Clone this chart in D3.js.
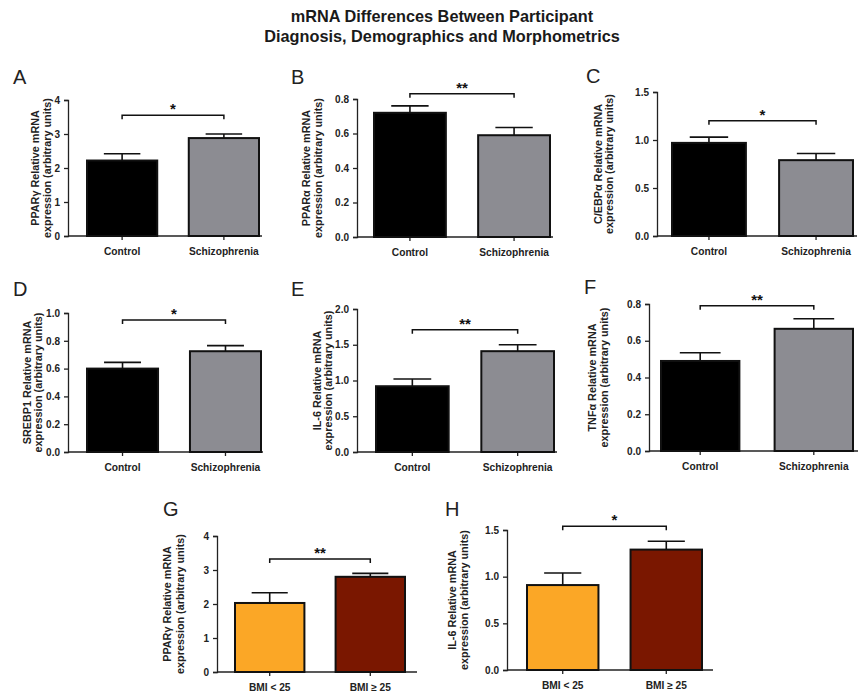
<!DOCTYPE html>
<html>
<head>
<meta charset="utf-8">
<script src="https://cdn.jsdelivr.net/npm/d3@7/dist/d3.min.js"></script>
<style>
  body { margin: 0; background: #fff; }
  svg { display: block; font-family: "Liberation Sans", Arial, sans-serif; }
</style>
</head>
<body>
<svg id="chart" width="861" height="694"></svg>
<script>
// ---------------- data ----------------
const panelLetters = ["A", "B", "C", "D", "E", "F", "G", "H"];
const geneLabels = ["PPARγ", "PPARα", "C/EBPα", "SREBP1", "IL-6", "TNFα", "PPARγ", "IL-6"];
const diagnosisGroups = ["Control", "Schizophrenia"];
const bmiGroups = ["BMI < 25", "BMI ≥ 25"];
const panelGroupSets = ["diag", "diag", "diag", "diag", "diag", "diag", "bmi", "bmi"];
const meanValues = [
  [2.22, 2.88],
  [0.72, 0.59],
  [0.97, 0.79],
  [0.60, 0.725],
  [0.92, 1.41],
  [0.49, 0.665],
  [2.03, 2.80],
  [0.91, 1.29]
];
const semValues = [
  [0.20, 0.12],
  [0.04, 0.045],
  [0.06, 0.07],
  [0.045, 0.04],
  [0.10, 0.09],
  [0.045, 0.055],
  [0.30, 0.10],
  [0.13, 0.09]
];
const yMaxValues = [4, 0.8, 1.5, 1.0, 2.0, 0.8, 4, 1.5];
const yTickValues = [
  [0, 1, 2, 3, 4],
  [0, 0.2, 0.4, 0.6, 0.8],
  [0, 0.5, 1.0, 1.5],
  [0, 0.2, 0.4, 0.6, 0.8, 1.0],
  [0, 0.5, 1.0, 1.5, 2.0],
  [0, 0.2, 0.4, 0.6, 0.8],
  [0, 1, 2, 3, 4],
  [0, 0.5, 1.0, 1.5]
];
const yTickFormats = ["d", ".1f", ".1f", ".1f", ".1f", ".1f", "d", ".1f"];
const sigLabels = ["*", "**", "*", "*", "**", "**", "**", "*"];
const bracketValues = [3.55, 0.83, 1.2, 0.95, 1.71, 0.79, 3.32, 1.54];
const titleLines = ["mRNA Differences Between Participant", "Diagnosis, Demographics and Morphometrics"];
const yTitleSecond = "expression (arbitrary units)";

// colours
const diagColors = ["#000000", "#8c8c92"];
const bmiColors = ["#fba726", "#7a1700"];

// ---------------- layout ----------------
const layout = [
  { ax: 68,  top: 100, bot: 236, b0: 87,  b1: 259, end: 262, t1: -33, t2: -21, lx: 13,  ly: 84 },
  { ax: 357, top: 99,  bot: 237, b0: 374, b1: 550, end: 553, t1: -51, t2: -39, lx: 291, ly: 84 },
  { ax: 657, top: 92,  bot: 236, b0: 672, b1: 853, end: 857, t1: -59, t2: -48, lx: 586, ly: 83 },
  { ax: 68,  top: 313, bot: 452, b0: 87,  b1: 261, end: 263, t1: -41, t2: -30, lx: 13,  ly: 296 },
  { ax: 357, top: 309, bot: 452, b0: 376, b1: 554, end: 557, t1: -40, t2: -29, lx: 291, ly: 296 },
  { ax: 649, top: 304, bot: 451, b0: 661, b1: 853, end: 858, t1: -57, t2: -45, lx: 584, ly: 294 },
  { ax: 217, top: 536, bot: 672, b0: 235, b1: 405, end: 417, t1: -50, t2: -37, lx: 163, ly: 516 },
  { ax: 507, top: 530, bot: 670, b0: 527, b1: 702, end: 713, t1: -55, t2: -43, lx: 445, ly: 516 }
];

const svg = d3.select("#chart");

// title
svg.append("g").selectAll("text").data(titleLines).join("text")
  .attr("x", 442).attr("y", (d, i) => 22 + i * 20)
  .attr("text-anchor", "middle")
  .attr("font-size", 16.3).attr("font-weight", "bold").attr("fill", "#1a1a1a")
  .text(d => d);

panelLetters.forEach((letter, i) => {
  const L = layout[i];
  const groups = panelGroupSets[i] === "diag" ? diagnosisGroups : bmiGroups;
  const colors = panelGroupSets[i] === "diag" ? diagColors : bmiColors;
  const g = svg.append("g");

  const x = d3.scaleBand().domain(groups).range([L.b0, L.b1]).paddingInner(0.31).paddingOuter(0);
  const y = d3.scaleLinear().domain([0, yMaxValues[i]]).range([L.bot, L.top]);

  // panel letter
  g.append("text").attr("x", L.lx).attr("y", L.ly)
    .attr("font-size", 20).attr("fill", "#222").text(letter);

  // y axis
  const yAxis = d3.axisLeft(y).tickValues(yTickValues[i])
    .tickFormat(d3.format(yTickFormats[i])).tickSize(4).tickPadding(4);
  const ya = g.append("g").attr("transform", `translate(${L.ax},0)`).call(yAxis);
  ya.select(".domain").attr("stroke", "#222").attr("stroke-width", 1.3);
  ya.selectAll(".tick line").attr("stroke", "#222").attr("stroke-width", 1.3);
  ya.selectAll(".tick text").attr("font-size", 10).attr("font-weight", "bold")
    .attr("fill", "#222").attr("font-family", "Liberation Sans, Arial, sans-serif");

  // x axis
  const xa = g.append("g").attr("transform", `translate(0,${L.bot})`);
  xa.append("line").attr("x1", L.ax).attr("x2", L.end).attr("y1", 0).attr("y2", 0)
    .attr("stroke", "#222").attr("stroke-width", 1.3);
  xa.selectAll("line.tk").data(groups).join("line").attr("class", "tk")
    .attr("x1", d => x(d) + x.bandwidth() / 2).attr("x2", d => x(d) + x.bandwidth() / 2)
    .attr("y1", 0).attr("y2", 4).attr("stroke", "#222").attr("stroke-width", 1.3);
  xa.selectAll("text").data(groups).join("text")
    .attr("x", d => x(d) + x.bandwidth() / 2).attr("y", 19)
    .attr("text-anchor", "middle").attr("font-size", 10.2).attr("font-weight", "bold")
    .attr("fill", "#222").text(d => d);

  // y title
  const cy = (L.top + L.bot) / 2;
  [[geneLabels[i] + " Relative mRNA", L.t1], [yTitleSecond, L.t2]].forEach(([txt, off]) => {
    g.append("text")
      .attr("transform", `translate(${L.ax + off},${cy}) rotate(-90)`)
      .attr("text-anchor", "middle").attr("dy", "0.35em")
      .attr("font-size", 10.8).attr("font-weight", "bold").attr("fill", "#222")
      .text(txt);
  });

  const vals = groups.map((grp, j) => ({ grp, m: meanValues[i][j], s: semValues[i][j], c: colors[j] }));

  // error bars (upper only)
  const capW = x.bandwidth() * 0.52;
  g.selectAll("line.err").data(vals).join("line").attr("class", "err")
    .attr("x1", d => x(d.grp) + x.bandwidth() / 2).attr("x2", d => x(d.grp) + x.bandwidth() / 2)
    .attr("y1", d => y(d.m)).attr("y2", d => y(d.m + d.s))
    .attr("stroke", "#111").attr("stroke-width", 1.6);
  g.selectAll("line.cap").data(vals).join("line").attr("class", "cap")
    .attr("x1", d => x(d.grp) + x.bandwidth() / 2 - capW / 2)
    .attr("x2", d => x(d.grp) + x.bandwidth() / 2 + capW / 2)
    .attr("y1", d => y(d.m + d.s)).attr("y2", d => y(d.m + d.s))
    .attr("stroke", "#111").attr("stroke-width", 1.6);

  // bars
  g.selectAll("rect.bar").data(vals).join("rect").attr("class", "bar")
    .attr("x", d => x(d.grp)).attr("width", x.bandwidth())
    .attr("y", d => y(d.m)).attr("height", d => y(0) - y(d.m))
    .attr("fill", d => d.c).attr("stroke", "#111").attr("stroke-width", 2);

  // significance bracket
  const bx1 = x(groups[0]) + x.bandwidth() / 2;
  const bx2 = x(groups[1]) + x.bandwidth() / 2;
  const by = y(bracketValues[i]);
  g.append("path")
    .attr("d", `M${bx1},${by + 4}V${by}H${bx2}V${by + 4}`)
    .attr("fill", "none").attr("stroke", "#111").attr("stroke-width", 1.5);
  g.append("text").attr("x", (bx1 + bx2) / 2).attr("y", by - 1)
    .attr("text-anchor", "middle").attr("font-size", 15).attr("font-weight", "bold")
    .attr("fill", "#111").text(sigLabels[i]);
});
</script>
</body>
</html>
